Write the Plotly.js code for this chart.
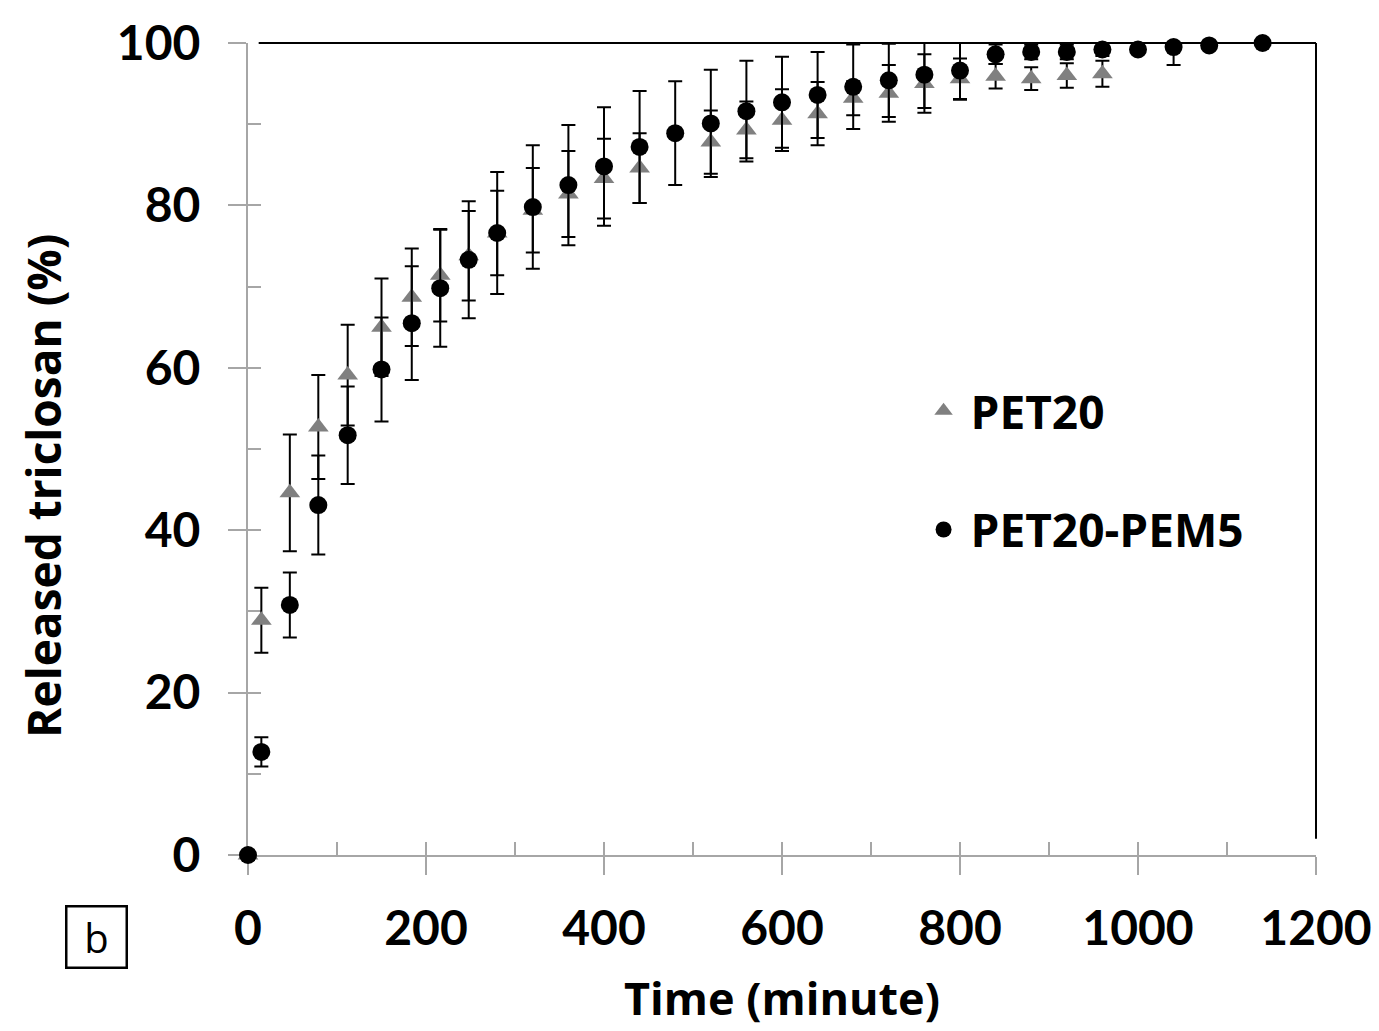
<!DOCTYPE html>
<html>
<head>
<meta charset="utf-8">
<script src="https://cdn.plot.ly/plotly-3.0.1.min.js"></script>
<style>html,body{margin:0;padding:0;background:#fff;}#chart{width:1379px;height:1031px;}</style>
</head>
<body>
<div id="chart"></div>
<script>
// Time (minute)
const timePET20 = [0, 15, 47, 79, 112, 150, 184, 216, 248, 280, 320, 360, 400, 440, 520, 560, 600, 640, 680, 720, 760, 800, 840, 880, 920, 960];
const releasedPET20 = [0, 28.9, 44.6, 52.7, 59.1, 65.0, 68.7, 71.4, 73.8, 76.6, 79.4, 81.4, 83.3, 84.6, 87.8, 89.3, 90.5, 91.3, 93.2, 93.8, 95.0, 95.6, 95.9, 95.6, 96.0, 96.2];
const errPET20 = [0, 4.0, 7.2, 6.4, 6.2, 6.0, 6.0, 5.7, 5.5, 5.2, 5.2, 5.3, 4.9, 4.3, 3.9, 3.5, 3.8, 3.9, 2.1, 3.5, 3.6, 2.5, 1.5, 1.4, 1.5, 1.6];

const timePEM5 = [0, 15, 47, 79, 112, 150, 184, 216, 248, 280, 320, 360, 400, 440, 480, 520, 560, 600, 640, 680, 720, 760, 800, 840, 880, 920, 960, 1000, 1040, 1080, 1140];
const releasedPEM5 = [0, 12.7, 30.8, 43.1, 51.7, 59.8, 65.5, 69.8, 73.3, 76.6, 79.8, 82.5, 84.8, 87.2, 88.9, 90.1, 91.6, 92.7, 93.6, 94.6, 95.4, 96.1, 96.6, 98.6, 98.9, 98.9, 99.2, 99.2, 99.5, 99.7, 100];
const errPEM5 = [0, 1.8, 4.0, 6.1, 6.0, 6.4, 7.0, 7.2, 7.2, 7.5, 7.6, 7.4, 7.3, 6.9, 6.4, 6.6, 6.2, 5.6, 5.3, 5.2, 4.5, 4.1, 3.6, 1.2, 0.9, 0.9, 0.8, 0, 2.2, 0, 0];

const seriesNames = ['PET20', 'PET20-PEM5'];
const xTickVals = [0, 200, 400, 600, 800, 1000, 1200];
const yTickVals = [0, 20, 40, 60, 80, 100];
const xTitle = 'Time (minute)';
const yTitle = 'Released triclosan (%)';

const TICKFONT = 'Lato, "Open Sans", sans-serif';
const TITLEFONT = '"Open Sans", Lato, sans-serif';

const traces = [
  {
    x: timePET20, y: releasedPET20, name: seriesNames[0], type: 'scatter', mode: 'markers',
    legendgroup: 'a', cliponaxis: false,
    marker: {symbol: 'triangle-up', size: 18, color: '#808080'},
    error_y: {type: 'data', array: errPET20, visible: true, color: '#000', thickness: 2, width: 7}
  },
  {
    x: timePEM5, y: releasedPEM5, name: seriesNames[1], type: 'scatter', mode: 'markers',
    legendgroup: 'b', cliponaxis: false,
    marker: {symbol: 'circle', size: 18, color: '#000'},
    error_y: {type: 'data', array: errPEM5, visible: true, color: '#000', thickness: 2, width: 7}
  },
  // invisible helper trace so the inside-tick overlay axes are drawn
  {x: [0], y: [0], xaxis: 'x2', yaxis: 'y2', mode: 'markers', marker: {opacity: 0}, showlegend: false, hoverinfo: 'skip'}
];

const layout = {
  width: 1379, height: 1031,
  margin: {l: 248, r: 63, t: 43, b: 176},
  paper_bgcolor: '#fff', plot_bgcolor: '#fff',
  showlegend: true,
  legend: {
    x: 0.626, y: 0.592, xanchor: 'left', yanchor: 'top',
    font: {family: TITLEFONT, size: 46, color: '#000', weight: 'bold'},
    tracegroupgap: 56, bgcolor: 'rgba(0,0,0,0)', itemwidth: 44
  },
  xaxis: {
    range: [0, 1200], tickvals: xTickVals, ticktext: xTickVals.map(String),
    showgrid: false, zeroline: false, showline: true, linecolor: '#a6a6a6', linewidth: 2,
    ticks: 'outside', ticklen: 18, tickwidth: 2, tickcolor: '#a6a6a6', ticklabelstandoff: 12,
    tickfont: {family: TICKFONT, size: 48, color: '#000', weight: 'bold'},
    title: {text: xTitle, font: {family: TITLEFONT, size: 45, color: '#000', weight: 'bold'}, standoff: 30},
    layer: 'below traces', fixedrange: true
  },
  yaxis: {
    range: [0, 100], tickvals: yTickVals, ticktext: yTickVals.map(String),
    showgrid: false, zeroline: false, showline: true, linecolor: '#a6a6a6', linewidth: 2,
    ticks: 'outside', ticklen: 18, tickwidth: 2, tickcolor: '#a6a6a6', ticklabelstandoff: 18,
    tickfont: {family: TICKFONT, size: 48, color: '#000', weight: 'bold'},
    layer: 'below traces', fixedrange: true
  },
  xaxis2: {
    overlaying: 'x', range: [0, 1200], dtick: 100, tick0: 0, showticklabels: false,
    showgrid: false, zeroline: false, showline: false, layer: 'below traces',
    ticks: 'inside', ticklen: 13, tickwidth: 2, tickcolor: '#a6a6a6', anchor: 'y2', side: 'bottom', fixedrange: true
  },
  yaxis2: {
    overlaying: 'y', range: [0, 100], dtick: 10, tick0: 0, showticklabels: false,
    showgrid: false, zeroline: false, showline: false, layer: 'below traces',
    ticks: 'inside', ticklen: 13, tickwidth: 2, tickcolor: '#a6a6a6', anchor: 'x2', side: 'left', fixedrange: true
  },
  shapes: [
    {type: 'line', xref: 'paper', yref: 'paper', x0: 0.01, x1: 1, y0: 1, y1: 1, layer: 'below', line: {color: '#000', width: 2}},
    {type: 'line', xref: 'paper', yref: 'paper', x0: 1, x1: 1, y0: 1, y1: 0.02, layer: 'below', line: {color: '#000', width: 2}}
  ],
  annotations: [
    {text: yTitle, xref: 'paper', yref: 'paper', x: -0.192, y: 0.4545, xanchor: 'center', yanchor: 'middle',
     textangle: -90, showarrow: false, font: {family: TITLEFONT, size: 46, color: '#000', weight: 'bold'}},
    {text: 'b', xref: 'paper', yref: 'paper', x: -0.142, y: -0.101, xanchor: 'center', yanchor: 'middle',
     showarrow: false, font: {family: '"Open Sans", sans-serif', size: 40, color: '#000'},
     bordercolor: '#000', borderwidth: 2.5, borderpad: 2, width: 54, height: 55}
  ]
};

Plotly.newPlot('chart', traces, layout, {displayModeBar: false, staticPlot: true});
</script>
</body>
</html>
